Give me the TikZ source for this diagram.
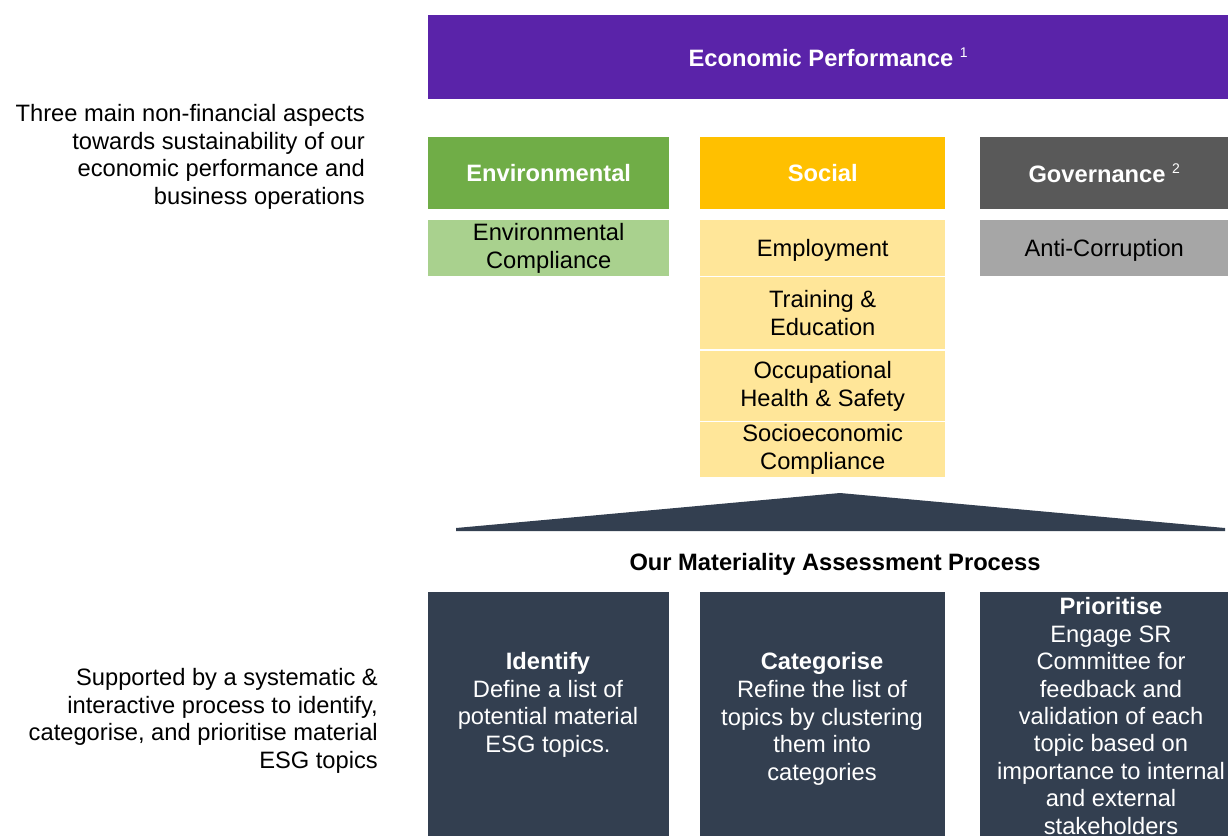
\documentclass[tikz,border=0pt]{standalone}
\usepackage{fontspec}
\setmainfont{Liberation Sans}
\definecolor{econ}{HTML}{5A23A9}
\definecolor{envhead}{HTML}{70AD47}
\definecolor{envsub}{HTML}{A9D18E}
\definecolor{sochead}{HTML}{FFC000}
\definecolor{socsub}{HTML}{FFE699}
\definecolor{govhead}{HTML}{595959}
\definecolor{govsub}{HTML}{A6A6A6}
\definecolor{navy}{HTML}{333F50}
\newcommand{\supnum}[1]{\ {\fontsize{14}{14}\selectfont\mdseries\raisebox{9pt}{#1}}}
\begin{document}
\begin{tikzpicture}[x=1pt,y=-1pt,
  txt/.style={font=\fontsize{23.7}{27.7}\selectfont, inner sep=0pt, align=center},
  cell/.style={txt, rectangle, anchor=north west},
  head/.style={cell, text=white, font=\fontsize{23.7}{27.7}\selectfont\bfseries},
  sub/.style={cell, text=black},
  proc/.style={cell, fill=navy}]
\useasboundingbox (0,0) rectangle (1228,836);

% top bar
\node[head, fill=econ, minimum width=800pt, minimum height=84pt] (econ) at (428,15)
  {Economic Performance\supnum{1}};

% pillar headers
\node[head, fill=envhead, minimum width=241pt, minimum height=72pt] (env) at (428,137) {Environmental};
\node[head, fill=sochead, minimum width=245pt, minimum height=72pt] (soc) at (700,137) {Social};
\node[head, fill=govhead, minimum width=248pt, minimum height=72pt] (gov) at (980,137) {\raisebox{0pt}[\height][0pt]{Governance\supnum{2}}};

% topics
\node[sub, fill=envsub, minimum width=241pt, minimum height=56pt] (envcomp) at (428,220)
  {Environmental\\Compliance};
\node[sub, fill=govsub, minimum width=248pt, minimum height=56pt] (anticorr) at (980,220)
  {\raisebox{0pt}[\height][0pt]{Anti-Corruption}};
\node[sub, fill=socsub, minimum width=245pt, minimum height=56pt] (employ) at (700,220)
  {\raisebox{0pt}[\height][0pt]{Employment}};
\node[sub, fill=socsub, minimum width=245pt, minimum height=72pt] (train) at (700,277)
  {Training \&\\Education};
\node[sub, fill=socsub, minimum width=245pt, minimum height=70pt] (ohs) at (700,351)
  {Occupational\\Health \& Safety};
\node[sub, fill=socsub, minimum width=245pt, minimum height=55pt] (socio) at (700,422)
  {Socioeconomic\\Compliance};

% roof over the process
\fill[navy] (456,531) -- (456,528) -- (840,493) -- (1225,528) -- (1225,531) -- cycle;

\node[txt, font=\fontsize{23.7}{27.7}\selectfont\bfseries] (proctitle) at (835,564)
  {Our Materiality Assessment Process};

% process steps
\node[proc, minimum width=241pt, minimum height=244pt] (ident) at (428,592) {};
\node[proc, minimum width=245pt, minimum height=244pt] (categ) at (700,592) {};
\node[proc, minimum width=248pt, minimum height=244pt] (prior) at (980,592) {};

\node[txt, text=white] (identtxt) at (548,705)
  {\textbf{Identify}\\Define a list of\\potential material\\ESG topics.};
\node[txt, text=white] (categtxt) at (822,719)
  {\textbf{Categorise}\\Refine the list of\\topics by clustering\\them into\\categories};
\node[txt, text=white, font=\fontsize{23.7}{27.4}\selectfont] (priortxt) at (1111,716)
  {\textbf{Prioritise}\\Engage SR\\Committee for\\feedback and\\validation of each\\topic based on\\importance to internal\\and external\\stakeholders};

% side notes
\node[txt, align=right, anchor=east] (note1) at (365,157)
  {Three main non-financial aspects\\towards sustainability of our\\economic performance and\\business operations};
\node[txt, align=right, anchor=east] (note2) at (378,721)
  {Supported by a systematic \&\\interactive process to identify,\\categorise, and prioritise material\\ESG topics};
\end{tikzpicture}
\end{document}
